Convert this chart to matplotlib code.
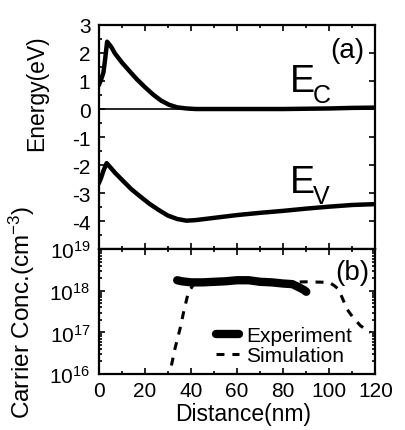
import matplotlib
matplotlib.use("Agg")
import matplotlib.pyplot as plt
from matplotlib.ticker import MultipleLocator, LogLocator, FixedLocator, NullFormatter
import numpy as np

# ---- data ----
x_ec = [0, 1, 2, 2.7, 3.6, 5.5, 7, 10, 13, 16.5, 20, 23.5, 27, 30.5, 34, 38, 42, 50, 60, 70, 80, 90, 100, 110, 120]
ec = [0.85, 1.05, 1.3, 1.75, 2.4, 2.2, 1.98, 1.66, 1.38, 1.06, 0.78, 0.52, 0.3, 0.15, 0.06, 0.02, 0.0, 0.0, 0.0, 0.0, 0.0, 0.01, 0.02, 0.04, 0.05]

x_ev = [0, 1, 2, 3.4, 5, 7, 10, 14, 18, 22, 26, 30, 34, 38, 42, 50, 60, 70, 80, 90, 100, 110, 120]
ev = [-2.65, -2.45, -2.2, -1.93, -2.08, -2.27, -2.52, -2.85, -3.12, -3.38, -3.6, -3.8, -3.92, -3.98, -3.96, -3.88, -3.78, -3.70, -3.63, -3.55, -3.48, -3.42, -3.39]

x_exp = [34, 36, 40, 45, 50, 55, 60, 65, 70, 75, 80, 84, 87, 89, 90]
n_exp = [1.8e18, 1.7e18, 1.6e18, 1.6e18, 1.65e18, 1.7e18, 1.8e18, 1.8e18, 1.65e18, 1.6e18, 1.5e18, 1.45e18, 1.2e18, 1.05e18, 9.5e17]

x_sim = [31.5, 33, 35.2, 37, 38.8, 41, 45, 50, 60, 70, 80, 90, 100, 102, 104, 107.7, 110, 113.5, 117.8]
n_sim = [1.6e16, 4e16, 1.2e17, 3.5e17, 9e17, 1.4e18, 1.55e18, 1.6e18, 1.6e18, 1.6e18, 1.6e18, 1.65e18, 1.6e18, 1.35e18, 1.1e18, 3.6e17, 2.4e17, 1.45e17, 1.0e17]

xticks = [0, 20, 40, 60, 80, 100, 120]
e_ticks = [3, 2, 1, 0, -1, -2, -3, -4]
n_ticks = [1e16, 1e17, 1e18, 1e19]
n_ticklabels = ['10$^{16}$', '10$^{17}$', '10$^{18}$', '10$^{19}$']

plt.rcParams['font.family'] = ['Liberation Sans', 'DejaVu Sans']
plt.rcParams['mathtext.fontset'] = 'custom'
plt.rcParams['mathtext.rm'] = 'Liberation Sans'
plt.rcParams['mathtext.it'] = 'Liberation Sans'
plt.rcParams['axes.unicode_minus'] = False

fig = plt.figure(figsize=(4.05, 4.31), dpi=100)
gs = fig.add_gridspec(2, 1, height_ratios=[225, 125], hspace=0,
                      left=0.244, right=0.927, top=0.940, bottom=0.130)
ax1 = fig.add_subplot(gs[0])
ax2 = fig.add_subplot(gs[1], sharex=ax1)

fs = 15
for ax in (ax1, ax2):
    for s in ax.spines.values():
        s.set_linewidth(1.6)
    ax.tick_params(which='both', direction='in', top=True, right=True, labelsize=fs, width=1.2)
    ax.tick_params(which='major', length=4.5, pad=6)
    ax.tick_params(which='minor', length=2.5)

# top panel
ax1.plot(x_ec, ec, color='black', lw=3.2, solid_capstyle='round', solid_joinstyle='round')
ax1.plot(x_ev, ev, color='black', lw=3.2, solid_capstyle='round', solid_joinstyle='round')
ax1.axhline(0, color='black', lw=1.2)
ax1.set_ylim(-5, 3)
ax1.set_yticks(e_ticks)
ax1.yaxis.set_minor_locator(MultipleLocator(0.5))
ax1.tick_params(axis='y', which='minor', right=False)
ax1.tick_params(axis='x', labelbottom=False)
ax1.set_ylabel('Energy(eV)', fontsize=16.5)
ax1.yaxis.set_label_coords(-0.185, 0.70)
ax1.text(0.90, 0.889, '(a)', transform=ax1.transAxes, fontsize=20, ha='center', va='center')
ax1.text(82.7, 0.65, 'E', fontsize=27, ha='left', va='baseline')
ax1.text(93.0, 0.25, 'C', fontsize=18, ha='left', va='baseline')
ax1.text(82.7, -2.95, 'E', fontsize=27, ha='left', va='baseline')
ax1.text(93.0, -3.35, 'V', fontsize=18, ha='left', va='baseline')

# bottom panel
ax2.plot(x_exp, n_exp, color='black', lw=6, solid_capstyle='round', solid_joinstyle='round', label='Experiment')
ax2.plot(x_sim, n_sim, color='black', lw=2.2, dashes=(2.6, 2.6), label='Simulation')
ax2.set_yscale('log')
ax2.set_ylim(1e16, 1e19)
ax2.yaxis.set_major_locator(FixedLocator(n_ticks))
ax2.set_yticklabels(n_ticklabels)
ax2.yaxis.set_minor_locator(LogLocator(base=10, subs=np.arange(2, 10), numticks=20))
ax2.yaxis.set_minor_formatter(NullFormatter())
ax2.set_xlim(0, 120)
ax2.set_xticks(xticks)
ax2.xaxis.set_minor_locator(MultipleLocator(10))
ax2.tick_params(axis='x', which='major', pad=5)
ax2.set_xlabel('Distance(nm)', fontsize=16.5)
ax2.xaxis.set_label_coords(0.52, -0.225)
ax2.set_ylabel('Carrier Conc.(cm$^{-3}$)', fontsize=17.5)
ax2.yaxis.set_label_coords(-0.225, 0.5)
ax2.text(0.915, 0.816, '(b)', transform=ax2.transAxes, fontsize=20, ha='center', va='center')
leg = ax2.legend(loc='lower left', bbox_to_anchor=(0.424, 0.068), frameon=False, fontsize=15,
                 handlelength=1.1, handletextpad=0.35, labelspacing=0.05, borderpad=0,
                 borderaxespad=0)

fig.savefig('out.png', dpi=100)
